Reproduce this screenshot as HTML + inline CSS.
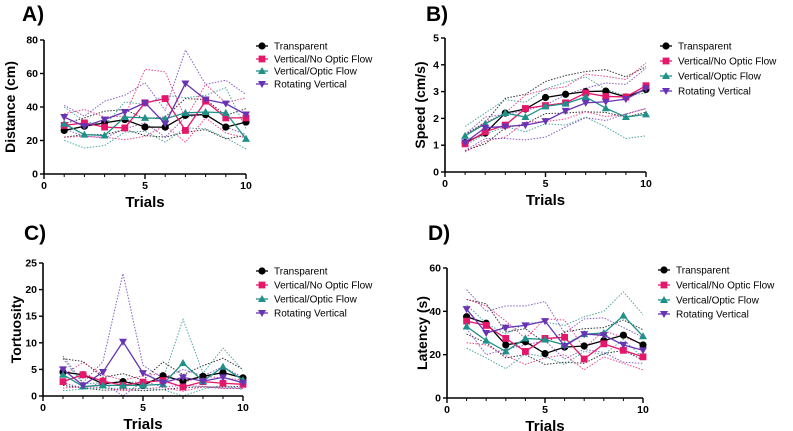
<!DOCTYPE html>
<html><head><meta charset="utf-8"><style>
html,body{margin:0;padding:0;background:#fff;}
svg{display:block;font-family:"Liberation Sans",Arial,sans-serif;}
</style></head><body>
<svg id="chart" width="793" height="431" viewBox="0 0 793 431" xmlns="http://www.w3.org/2000/svg"></svg>
<script>
const trials = [1,2,3,4,5,6,7,8,9,10];
const seriesNames = ["Transparent","Vertical/No Optic Flow","Vertical/Optic Flow","Rotating Vertical"];
// Panel A: Distance (cm)
const distTransparent = [26,28.5,30.5,32.5,28,28,35,35.5,28,31];
const distNoOptic = [29,30.5,28,27.5,42.5,45,26,43.5,33.5,33.5];
const distOptic = [30,23.5,23,34,33.5,33,36.5,37,36.5,21];
const distRotating = [34,28.5,32.5,37,42.5,30,54,44.5,42,35.5];
const distSdTransparent = [4,5,7,6,5,6,10,9,7,8];
const distSdNoOptic = [7,8,6,7,20,16,7,10,9,12];
const distSdOptic = [10,8,6,9,8,14,9,10,15,6];
const distSdRotating = [7,6,11,10,12,8,20,9,14,12];
const distTicks = [0,20,40,60,80];
// Panel B: Speed (cm/s)
const spdTransparent = [1.1,1.45,2.2,2.35,2.78,2.9,3.0,3.02,2.8,3.08];
const spdNoOptic = [1.05,1.5,1.75,2.37,2.48,2.58,2.95,2.82,2.8,3.22];
const spdOptic = [1.35,1.8,2.2,2.05,2.45,2.55,2.8,2.38,2.05,2.15];
const spdRotating = [1.1,1.65,1.7,1.75,1.9,2.28,2.58,2.62,2.72,3.12];
const spdSdTransparent = [0.3,0.4,0.55,0.55,0.6,0.7,0.75,0.8,0.75,0.85];
const spdSdNoOptic = [0.3,0.35,0.45,0.5,0.6,0.6,0.7,0.75,0.65,0.85];
const spdSdOptic = [0.35,0.4,0.5,0.55,0.65,0.8,0.75,0.7,0.8,0.8];
const spdSdRotating = [0.3,0.4,0.45,0.55,0.6,0.6,0.55,0.7,0.55,0.75];
const spdTicks = [0,1,2,3,4,5];
// Panel C: Tortuosity
const torTransparent = [4.5,4.0,2.3,2.7,2.0,3.8,2.8,3.7,4.4,3.4];
const torNoOptic = [2.7,4.0,2.8,2.0,2.6,2.9,1.7,2.7,2.4,2.2];
const torOptic = [4.0,1.8,2.0,2.0,2.0,2.2,6.2,2.8,5.5,3.0];
const torRotating = [5.0,2.0,4.5,10.2,4.3,2.5,3.5,2.8,3.5,2.5];
const torSdTransparent = [2.5,2.5,1.2,1.5,1.0,2.6,1.2,2,2.7,1.6];
const torSdNoOptic = [1.2,2.3,1.2,1.0,1.2,1.3,0.8,1.0,1.0,0.8];
const torSdOptic = [3,0.5,0.5,0.6,0.6,1,8.2,1.5,3.5,1.8];
const torSdRotating = [2.5,0.5,2,12.8,1.5,0.8,1.5,1,2,1];
const torTicks = [0,5,10,15,20,25];
// Panel D: Latency (s)
const latTransparent = [37.5,34.5,24.5,26,20.5,23.5,24,26.5,29,24.5];
const latNoOptic = [35.5,33.5,27.5,21.5,27.5,28,18,25,22,19];
const latOptic = [33,26.5,21.5,27.5,27,24.5,29.5,30,38,28.5];
const latRotating = [41,30,32.5,33.5,35.5,24,29.5,29,24.5,22];
const latSdTransparent = [8,9,6,6,5,7,8,6,7,7];
const latSdNoOptic = [10,9,8,6,9,8,5,6,6,6];
const latSdOptic = [10,8,8,7,8,9,8,10,11,10];
const latSdRotating = [9,10,10,9,9,6,7,8,8,6];
const latTicks = [0,20,40,60];
const xTicks = [0,5,10];

const colors = ["#000000","#e5176b","#20908a","#6834b3"];
const markers = ["circle","square","up","down"];
const NS = "http://www.w3.org/2000/svg";
const svg = document.getElementById("chart");
function mk(tag, attrs, parent){const e=document.createElementNS(NS,tag);for(const k in attrs)e.setAttribute(k,attrs[k]);(parent||svg).appendChild(e);return e;}

const panels = [
 {letter:"A)",lx:22,ly:21,x0:44,x1:246,yTop:40,yBot:174,ymax:80,ticks:distTicks,title:"Distance (cm)",tx:10,means:[distTransparent,distNoOptic,distOptic,distRotating],sds:[distSdTransparent,distSdNoOptic,distSdOptic,distSdRotating],legX:262,legY:[46,59,71,84],key:"distance"},
 {letter:"B)",lx:426,ly:21,x0:445,x1:646,yTop:38,yBot:172,ymax:5,ticks:spdTicks,title:"Speed (cm/s)",tx:420,means:[spdTransparent,spdNoOptic,spdOptic,spdRotating],sds:[spdSdTransparent,spdSdNoOptic,spdSdOptic,spdSdRotating],legX:666,legY:[46,61,76,91],key:"speed"},
 {letter:"C)",lx:24,ly:240,x0:43,x1:243,yTop:263,yBot:396,ymax:25,ticks:torTicks,title:"Tortuosity",tx:16,means:[torTransparent,torNoOptic,torOptic,torRotating],sds:[torSdTransparent,torSdNoOptic,torSdOptic,torSdRotating],legX:262,legY:[271,285,299,313],key:"tortuosity"},
 {letter:"D)",lx:428,ly:240,x0:447,x1:643,yTop:268,yBot:398,ymax:60,ticks:latTicks,title:"Latency (s)",tx:422,means:[latTransparent,latNoOptic,latOptic,latRotating],sds:[latSdTransparent,latSdNoOptic,latSdOptic,latSdRotating],legX:664,legY:[270,285,300,314],key:"latency"}
];

function drawMarker(g,type,x,y,c){
 let e;
 if(type==="circle") e=mk("circle",{cx:x,cy:y,r:3.6,fill:c},g);
 else if(type==="square") e=mk("rect",{x:x-3.4,y:y-3.4,width:6.8,height:6.8,fill:c},g);
 else if(type==="up") e=mk("polygon",{points:`${x},${y-4} ${x-4},${y+3} ${x+4},${y+3}`,fill:c},g);
 else e=mk("polygon",{points:`${x},${y+4} ${x-4},${y-3} ${x+4},${y-3}`,fill:c},g);
 return e;
}

panels.forEach(p=>{
 const g=mk("g",{});
 
 
 const X=v=>p.x0+(v/10)*(p.x1-p.x0);
 const Y=v=>p.yBot-(v/p.ymax)*(p.yBot-p.yTop);
 const L=mk("text",{x:p.lx,y:p.ly,"font-size":21,"font-weight":"bold",fill:"#000"},g);L.textContent=p.letter;
 
 
 // dotted bands
 p.means.forEach((m,si)=>{
  [1,-1].forEach(sg=>{
   const pts=trials.map((t,i)=>X(t)+","+Y(Math.max(0,m[i]+sg*p.sds[si][i]))).join(" ");
   const e=mk("polyline",{points:pts,fill:"none",stroke:colors[si],"stroke-width":1,"stroke-dasharray":"1.5,1.5",opacity:0.8},g);
   
   
  });
 });
 // axes
 const ax=mk("g",{},g);
 
 
 mk("line",{x1:p.x0,y1:p.yTop,x2:p.x0,y2:p.yBot+0.5,stroke:"#000","stroke-width":1.6},ax);
 mk("line",{x1:p.x0,y1:p.yBot,x2:p.x1,y2:p.yBot,stroke:"#000","stroke-width":1.6},ax);
 p.ticks.forEach(t=>{
  mk("line",{x1:p.x0-4,y1:Y(t),x2:p.x0,y2:Y(t),stroke:"#000","stroke-width":1.4},ax);
  const tl=mk("text",{x:p.x0-6,y:Y(t)+3.5,"font-size":10.5,"font-weight":"bold","text-anchor":"end"},ax);tl.textContent=t;
  
  
 });
 trials.forEach(t=>mk("line",{x1:X(t),y1:p.yBot,x2:X(t),y2:p.yBot+3,stroke:"#000","stroke-width":1},ax));
 xTicks.forEach(t=>{
  mk("line",{x1:X(t),y1:p.yBot,x2:X(t),y2:p.yBot+5,stroke:"#000","stroke-width":1.4},ax);
  const tl=mk("text",{x:X(t),y:p.yBot+15,"font-size":10.5,"font-weight":"bold","text-anchor":"middle"},ax);tl.textContent=t;
  
  
 });
 const xt=mk("text",{x:(p.x0+p.x1)/2,y:p.yBot+33,"font-size":15,"font-weight":"bold","text-anchor":"middle"},g);xt.textContent="Trials";
 
 
 const cy=(p.yTop+p.yBot)/2;
 const yt=mk("text",{x:p.tx,y:cy,"font-size":14,"font-weight":"bold","text-anchor":"middle",transform:`rotate(-90 ${p.tx} ${cy})`,dy:5},g);yt.textContent=p.title;
 
 
 // series
 p.means.forEach((m,si)=>{
  const sg=mk("g",{},g);
  
  
  mk("polyline",{points:trials.map((t,i)=>X(t)+","+Y(m[i])).join(" "),fill:"none",stroke:colors[si],"stroke-width":1.3},sg);
  trials.forEach((t,i)=>{
   const mm=drawMarker(sg,markers[si],X(t),Y(m[i]),colors[si]);
   
   
  });
 });
 // legend
 const lg=mk("g",{},g);
 
 
 seriesNames.forEach((n,si)=>{
  const y=p.legY[si];
  const le=mk("g",{},lg);
  
  
  mk("line",{x1:p.legX-6,y1:y,x2:p.legX+6,y2:y,stroke:colors[si],"stroke-width":1.3},le);
  drawMarker(le,markers[si],p.legX,y,colors[si]);
  const t=mk("text",{x:p.legX+12,y:y+3.5,"font-size":10,fill:"#000"},le);t.textContent=n;
 });
});
</script>
</body></html>
